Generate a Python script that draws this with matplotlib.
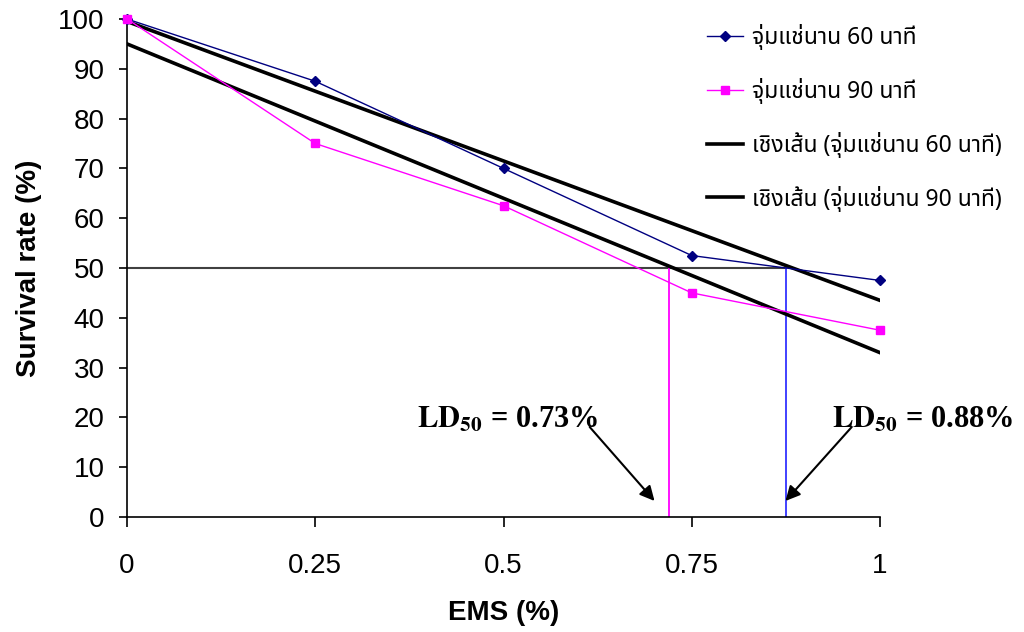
import matplotlib
matplotlib.use("Agg")
import matplotlib.pyplot as plt
from matplotlib import font_manager
import numpy as np

# ---- data ----
ems = [0, 0.25, 0.5, 0.75, 1]
surv_60 = [100, 87.5, 70, 52.5, 47.5]
surv_90 = [100, 75, 62.5, 45, 37.5]
label_60 = "จุ่มแช่นาน 60 นาที"
label_90 = "จุ่มแช่นาน 90 นาที"
label_fit60 = "เชิงเส้น (จุ่มแช่นาน 60 นาที)"
label_fit90 = "เชิงเส้น (จุ่มแช่นาน 90 นาที)"
ld50_60 = 0.875
ld50_90 = 0.72
ld_level = 50
xticks = [0, 0.25, 0.5, 0.75, 1]
xticklabels = ["0", "0.25", "0.5", "0.75", "1"]
yticks = list(range(0, 101, 10))

avail = {f.name for f in font_manager.fontManager.ttflist}
thai = "DejaVu Sans"
for cand in ["Noto Sans Thai", "Sarabun", "Anuphan", "Bai Jamjuree"]:
    if cand in avail:
        thai = cand
        break

plt.rcParams['font.family'] = ['Liberation Sans', 'DejaVu Sans']

fig = plt.figure(figsize=(10.24, 6.32), dpi=100)
ax = fig.add_axes([127/1024, 1-517/632, (880-127)/1024, (517-19)/632])

x = np.array(ems, dtype=float)
c60 = np.polyfit(x, surv_60, 1)
c90 = np.polyfit(x, surv_90, 1)

ax.plot(ems, surv_60, color='#000080', lw=1, marker='D', ms=5, label=label_60,
        clip_on=False, zorder=4)
ax.plot(ems, surv_90, color='#FF00FF', lw=1, marker='s', ms=6, label=label_90,
        clip_on=False, zorder=5)
ax.plot(x, np.polyval(c60, x), color='black', lw=2.6, label=label_fit60, zorder=3)
ax.plot(x, np.polyval(c90, x), color='black', lw=2.6, label=label_fit90, zorder=3)

# LD50 guide lines
ax.plot([0, ld50_60], [ld_level, ld_level], color='#404040', lw=1.5, zorder=2)
ax.plot([ld50_90, ld50_90], [0, ld_level], color='#FF00FF', lw=1.3, zorder=2)
ax.plot([ld50_60, ld50_60], [0, ld_level], color='#3333FF', lw=1.3, zorder=2)

ax.set_xlim(0, 1)
ax.set_ylim(0, 100)
ax.set_xticks(xticks)
ax.set_xticklabels(xticklabels)
ax.set_yticks(yticks)
for s in ['top', 'right']:
    ax.spines[s].set_visible(False)
for s in ['left', 'bottom']:
    ax.spines[s].set_linewidth(1.2)
ax.tick_params(axis='y', length=6, width=1.2, pad=10, labelsize=20)
ax.tick_params(axis='x', length=7, width=1.2, pad=19, labelsize=20)
ax.set_ylabel("Survival rate (%)", fontsize=20, fontweight='bold', labelpad=12)
ax.set_xlabel("EMS (%)", fontsize=20, fontweight='bold', labelpad=15)

# annotations
tfont = dict(family=['Liberation Serif', 'DejaVu Serif'], fontweight='bold', fontsize=22,
             math_fontfamily='stix')
ax.text(0.385, 19.5, r"$\mathbf{LD_{50}}$ = 0.73%", ha='left', va='center', clip_on=False, **tfont)
ax.text(0.936, 19.5, r"$\mathbf{LD_{50}}$ = 0.88%", ha='left', va='center', clip_on=False, **tfont)
arrowp = dict(arrowstyle='-|>', color='black', lw=1.5, mutation_scale=22)
ax.annotate("", xy=(0.703, 2.8), xytext=(0.612, 18.5), arrowprops=arrowp, annotation_clip=False)
ax.annotate("", xy=(0.872, 2.8), xytext=(0.965, 18.5), arrowprops=arrowp, annotation_clip=False)

leg = fig.legend(loc='upper left', bbox_to_anchor=(686/1024, 1-3/632), frameon=False,
                 prop={'family': [thai, 'DejaVu Sans'], 'size': 16.5},
                 handlelength=1.6, handletextpad=0.4, labelspacing=1.22)

fig.savefig("out.png", dpi=100)
